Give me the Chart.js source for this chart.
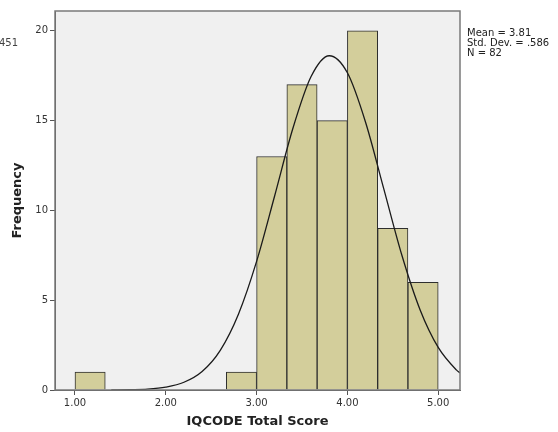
<!DOCTYPE html>
<html>
<head>
<meta charset="utf-8">
<script src="https://cdn.jsdelivr.net/npm/chart.js@4/dist/chart.umd.min.js"></script>
<style>
  html, body { margin: 0; padding: 0; background: #fff; }
  #wrap { width: 558px; height: 432px; position: relative; }
</style>
</head>
<body>
<div id="wrap"><canvas id="hist"></canvas></div>
<script>
// Histogram bins (width 1/3) and frequencies
const binCenters = [1.1667, 1.5, 1.8333, 2.1667, 2.5, 2.8333, 3.1667, 3.5, 3.8333, 4.1667, 4.5, 4.8333];
const binCounts = [1, 0, 0, 0, 0, 1, 13, 17, 15, 20, 9, 6];

// Normal curve
const curveX = [1.4, 1.6, 1.8, 2.0, 2.2, 2.4, 2.6, 2.8, 3.0, 3.2, 3.4, 3.6, 3.8, 4.0, 4.2, 4.4, 4.6, 4.8, 5.0, 5.2, 5.24];
const curveY = [0.0, 0.02, 0.05, 0.16, 0.43, 1.03, 2.21, 4.22, 7.16, 10.83, 14.57, 17.45, 18.61, 17.66, 14.91, 11.21, 7.5, 4.47, 2.37, 1.12, 0.95];

const xTicks = [1, 2, 3, 4, 5];
const statLines = ["Mean = 3.81", "Std. Dev. = .586", "N = 82"];

// Plot background, frame and side texts
const frame = {
  id: "frame",
  beforeDraw(chart) {
    const { ctx, chartArea: a } = chart;
    ctx.save();
    ctx.fillStyle = "#f0f0f0";
    ctx.fillRect(a.left, a.top, a.right - a.left, a.bottom - a.top);
    ctx.restore();
  },
  afterDraw(chart) {
    const { ctx, chartArea: a } = chart;
    ctx.save();
    ctx.strokeStyle = "#7a7a7a";
    ctx.lineWidth = 1.5;
    ctx.strokeRect(a.left, a.top, a.right - a.left, a.bottom - a.top);
    ctx.fillStyle = "#222";
    ctx.font = "10px 'DejaVu Sans'";
    ctx.textBaseline = "middle";
    statLines.forEach((t, i) => ctx.fillText(t, a.right + 7, 33 + i * 10));
    ctx.fillStyle = "#444";
    ctx.fillText("451", -1, 43);
    ctx.restore();
  }
};

new Chart(document.getElementById("hist"), {
  type: "bar",
  data: {
    datasets: [
      {
        type: "line",
        data: curveX.map((x, i) => ({ x: x, y: curveY[i] })),
        borderColor: "#1a1a1a",
        borderWidth: 1.3,
        pointRadius: 0,
        fill: false,
        cubicInterpolationMode: "monotone",
        order: 0
      },
      {
        type: "bar",
        data: binCenters.map((x, i) => ({ x: x, y: binCounts[i] })),
        backgroundColor: "#d3ce9b",
        borderColor: "#2e2e2e",
        borderWidth: 1,
        categoryPercentage: 1,
        barPercentage: 1,
        order: 1
      }
    ]
  },
  options: {
    responsive: true,
    maintainAspectRatio: false,
    animation: false,
    layout: { padding: { top: 11, right: 98, left: 0, bottom: 0 } },
    plugins: { legend: { display: false }, tooltip: { enabled: false } },
    scales: {
      x: {
        type: "linear",
        min: 0.78,
        max: 5.24,
        offset: false,
        afterBuildTicks: (scale) => { scale.ticks = xTicks.map(v => ({ value: v })); },
        afterFit: (scale) => { scale.height = 42; },
        ticks: {
          includeBounds: false,
          autoSkip: false,
          maxRotation: 0,
          padding: 2,
          color: "#333",
          font: { family: "DejaVu Sans", size: 10 },
          callback: (v) => Number(v).toFixed(2)
        },
        grid: { offset: false, drawOnChartArea: false, drawTicks: true, tickLength: 5, color: "#555" },
        border: { display: true, color: "#555", width: 1 },
        title: {
          display: true,
          text: "IQCODE Total Score",
          color: "#222",
          font: { family: "DejaVu Sans", size: 13, weight: "bold" },
          padding: { top: 0, bottom: 3 }
        }
      },
      y: {
        min: 0,
        max: 21.1,
        afterFit: (scale) => { scale.width = 55; },
        ticks: {
          stepSize: 5,
          includeBounds: false,
          padding: 2,
          color: "#333",
          font: { family: "DejaVu Sans", size: 10 }
        },
        grid: { drawOnChartArea: false, drawTicks: true, tickLength: 5, color: "#555" },
        border: { display: true, color: "#555", width: 1 },
        title: {
          display: true,
          text: "Frequency",
          color: "#222",
          font: { family: "DejaVu Sans", size: 13, weight: "bold" },
          padding: { top: 10, bottom: 0 }
        }
      }
    }
  },
  plugins: [frame]
});
</script>
</body>
</html>
